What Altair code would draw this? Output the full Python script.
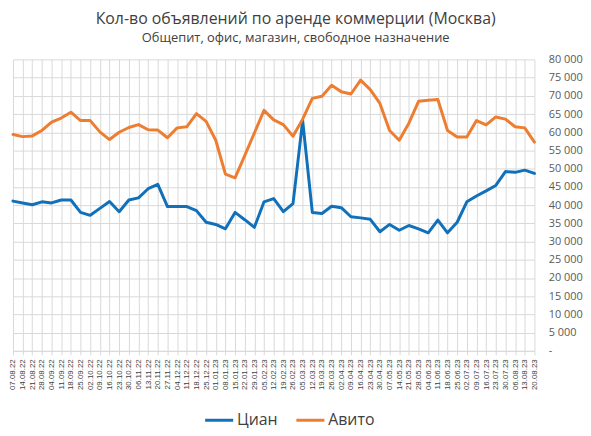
import altair as alt
import pandas as pd

dates = [
    "07.08.22", "14.08.22", "21.08.22", "28.08.22", "04.09.22", "11.09.22", "18.09.22", "25.09.22",
    "02.10.22", "09.10.22", "16.10.22", "23.10.22", "30.10.22", "06.11.22", "13.11.22", "20.11.22",
    "27.11.22", "04.12.22", "11.12.22", "18.12.22", "25.12.22", "01.01.23", "08.01.23", "15.01.23",
    "22.01.23", "29.01.23", "05.02.23", "12.02.23", "19.02.23", "26.02.23", "05.03.23", "12.03.23",
    "19.03.23", "26.03.23", "02.04.23", "09.04.23", "16.04.23", "23.04.23", "30.04.23", "07.05.23",
    "14.05.23", "21.05.23", "28.05.23", "04.06.23", "11.06.23", "18.06.23", "25.06.23", "02.07.23",
    "09.07.23", "16.07.23", "23.07.23", "30.07.23", "06.08.23", "13.08.23", "20.08.23",
]

cian = [
    41100, 40600, 40100, 40900, 40600, 41400, 41400, 38000, 37200, 39100,
    41000, 38200, 41400, 42000, 44500, 45700, 39600, 39600, 39600, 38500,
    35300, 34700, 33500, 38000, 36000, 33900, 40900, 41800, 38200, 40400,
    63200, 38000, 37700, 39700, 39300, 36800, 36500, 36100, 32700, 34700,
    33100, 34400, 33500, 32400, 35900, 32400, 35300, 40900, 42500, 43900,
    45400, 49200, 49000, 49600, 48700,
]

avito = [
    59400, 58800, 59000, 60500, 62800, 63900, 65500, 63200, 63200, 60100,
    58000, 60000, 61300, 62100, 60700, 60600, 58500, 61200, 61500, 65100,
    63000, 57800, 48500, 47500, 53600, 59800, 66000, 63400, 62100, 58900,
    63600, 69300, 69900, 72900, 71100, 70500, 74300, 71700, 67900, 60500,
    57800, 62500, 68500, 68800, 69000, 60500, 58700, 58700, 63200, 62000,
    64200, 63600, 61500, 61200, 57300,
]

series = ["Циан", "Авито"]
colors = ["#1170BA", "#ED7D31"]
y_ticks = list(range(0, 80001, 5000))

rows = []
for name, vals in zip(series, [cian, avito]):
    for d, v in zip(dates, vals):
        rows.append({"date": d, "series": name, "value": v})
df = pd.DataFrame(rows)

FONT = "Open Sans"

chart = alt.Chart(df).mark_line(strokeWidth=3, strokeJoin="round", strokeCap="round").encode(
    x=alt.X(
        "date:O",
        sort=dates,
        scale=alt.Scale(type="point", padding=0),
        axis=alt.Axis(
            title=None,
            labelAngle=-90,
            labelFont="Liberation Sans",
            labelFontSize=8,
            labelColor="#404040",
            labelPadding=4,
            grid=True,
            gridColor="#d9d9d9",
            gridWidth=1,
            ticks=True,
            tickSize=4,
            tickColor="#d9d9d9",
            domainColor="#d9d9d9",
            labelOverlap=False,
        ),
    ),
    y=alt.Y(
        "value:Q",
        scale=alt.Scale(domain=[0, 80000], nice=False),
        axis=alt.Axis(
            title=None,
            orient="right",
            values=y_ticks,
            labelExpr="datum.value == 0 ? '-' : replace(format(datum.value, ',d'), ',', ' ')",
            labelFont=FONT,
            labelFontSize=11,
            labelColor="#595959",
            labelPadding=14,
            labelAlign="left",
            ticks=False,
            domain=False,
            grid=True,
            gridColor="#d9d9d9",
            gridWidth=1,
        ),
    ),
    color=alt.Color(
        "series:N",
        scale=alt.Scale(domain=series, range=colors),
        legend=alt.Legend(
            title=None,
            orient="none",
            direction="horizontal",
            legendX=192,
            legendY=348,
            symbolType="stroke",
            symbolSize=800,
            symbolStrokeWidth=3,
            labelFont=FONT,
            labelFontSize=16,
            labelColor="#404040",
            labelOffset=2,
            columnPadding=12,
            padding=0,
        ),
    ),
    order=alt.Order("series:N", sort="descending"),
).properties(
    width=526,
    height=294,
    padding={"left": 1, "top": 1, "right": 0, "bottom": 0},
    title=alt.TitleParams(
        text="Кол-во объявлений по аренде коммерции (Москва)",
        subtitle="Общепит, офис, магазин, свободное назначение",
        font=FONT,
        fontSize=16,
        fontWeight="normal",
        color="#404040",
        subtitleFont=FONT,
        subtitleFontSize=13,
        subtitleColor="#404040",
        subtitlePadding=5,
        anchor="middle",
        frame="bounds",
        offset=9,
    ),
).configure_view(stroke=None)

chart.save("out.html", embed_options={"renderer": "svg", "actions": False})
